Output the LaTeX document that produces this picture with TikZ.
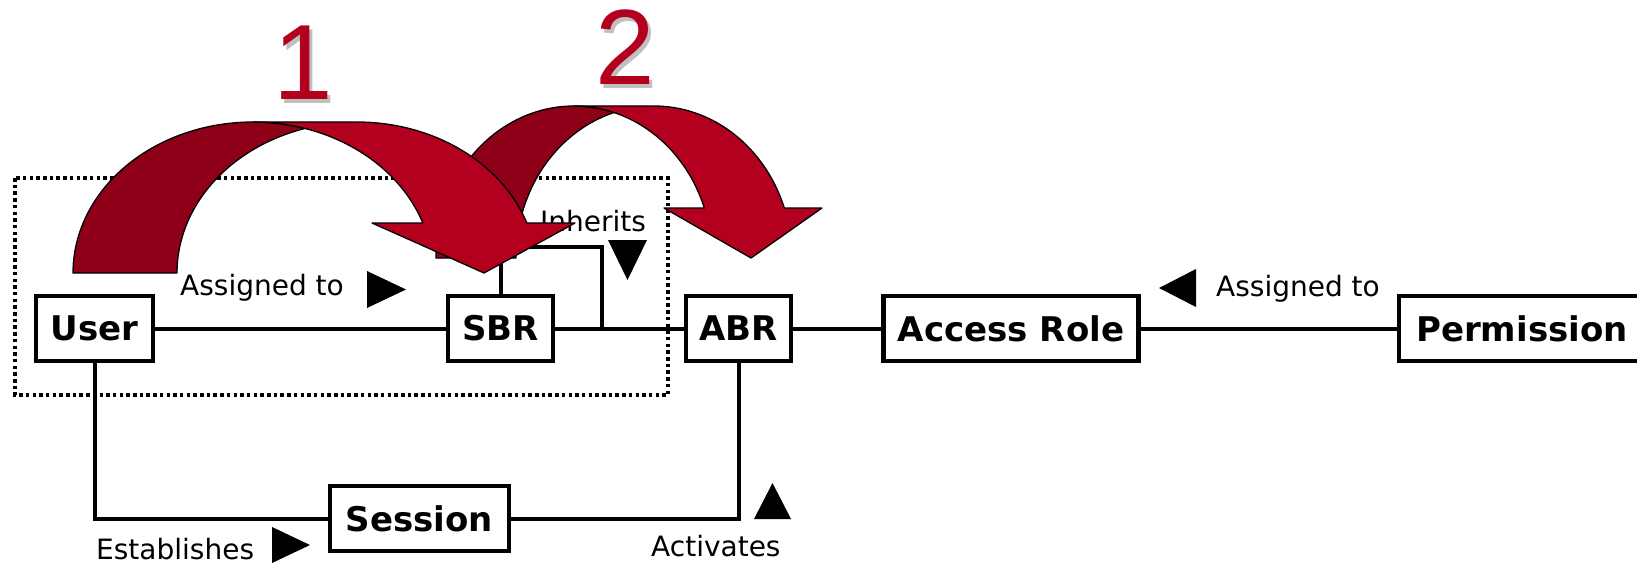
\documentclass[tikz,border=0pt]{standalone}
\usepackage{fontspec}
\setmainfont{DejaVu Sans}
\newfontfamily\numfont{Liberation Sans}
\definecolor{ribbon}{RGB}{178,0,30}
\definecolor{ribbondark}{RGB}{142,0,24}
\definecolor{numshadow}{RGB}{192,192,192}
% a step number with a soft grey drop shadow
\newcommand{\stepnum}[1]{\rlap{\raisebox{-3.5pt}{\hspace*{3.5pt}\textcolor{numshadow}{#1}}}#1}
\begin{document}
\begin{tikzpicture}[x=1pt,y=-1pt,
  box/.style={draw, line width=4.5pt, minimum height=65pt, inner sep=0pt,
    outer sep=0pt, fill=white, font=\bfseries\fontsize{34}{40}\selectfont},
  link/.style={line width=4pt},
  lbl/.style={inner sep=0pt, anchor=base west, font=\fontsize{28}{32}\selectfont},
  marker/.style={fill=black},
  dotframe/.style={line width=4pt, dash pattern=on 3.5pt off 3.2pt},
  front/.style={fill=ribbon, draw=black, line width=1.3pt, line join=round},
  back/.style={fill=ribbondark, draw=black, line width=1.3pt, line join=round},
  numtxt/.style={inner sep=0pt, anchor=base west, text=ribbon,
    font=\numfont\fontsize{107}{110}\selectfont}]

\useasboundingbox (0,0) rectangle (1637,567);
\clip (0,0) rectangle (1637,567);

% grouping frame around User and SBR
\draw[dotframe] (15,178) rectangle (668,395);

% role boxes
\node[box, minimum width=117pt] (user)    at (94.5,328.5)  {User};
\node[box, minimum width=105pt] (sbr)     at (500.5,328.5) {SBR};
\node[box, minimum width=105pt] (abr)     at (738.5,328.5) {ABR};
\node[box, minimum width=255pt] (access)  at (1011,328.5)  {Access Role};
\node[box, minimum width=246pt] (perm)    at (1522,328.5)  {Permission};
\node[box, minimum width=179pt] (session) at (419.5,518.5) {Session};

\coordinate (inhtop) at (602,247);
\coordinate (inhjoin) at (602,328.5);

% connectors
\draw[link] (user) -- (sbr);
\draw[link] (sbr) -- (abr);
\draw[link] (abr) -- (access);
\draw[link] (access) -- (perm);
\draw[link] (user.south) |- (session.west);
\draw[link] (session.east) -| (abr.south);
\draw[link] (sbr.north) |- (inhtop) -- (inhjoin);

% relation labels
\node[lbl] (lassign) at (180,295)  {Assigned to};
\node[lbl] (linh)    at (540,231)  {Inherits};
\node[lbl] (rassign) at (1216,296) {Assigned to};
\node[lbl] (lest)    at (96,559)   {Establishes};
\node[lbl] (lact)    at (651,556)  {Activates};

% direction markers
\fill[marker] (367,271) -- (406,289.5) -- (367,308) -- cycle;
\fill[marker] (608,240) -- (647,240) -- (627.5,280) -- cycle;
\fill[marker] (1196,269) -- (1196,307) -- (1159,288) -- cycle;
\fill[marker] (272,527) -- (310,545) -- (272,563) -- cycle;
\fill[marker] (772.5,483) -- (791,519) -- (754,519) -- cycle;

% ribbon arrow 2 (behind)
\filldraw[back] (436,258)
  -- plot[domain=180:286.8, samples=60, variable=\t] ({574+138*cos(\t)},{258+152*sin(\t)})
  -- plot[domain=253.2:180, samples=60, variable=\t] ({654+138*cos(\t)},{258+152*sin(\t)})
  -- cycle;
\filldraw[front] (574,106) -- (654,106)
  -- plot[domain=270:340.8, samples=60, variable=\t] ({654+138*cos(\t)},{258+152*sin(\t)})
  -- (822,208) -- (751,258) -- (664,208) -- (704.3,208)
  -- plot[domain=340.8:270, samples=60, variable=\t] ({574+138*cos(\t)},{258+152*sin(\t)})
  -- cycle;

% ribbon arrow 1 (front)
\filldraw[back] (73,273)
  -- plot[domain=180:286.8, samples=60, variable=\t] ({253+180*cos(\t)},{273+151*sin(\t)})
  -- plot[domain=253.2:180, samples=60, variable=\t] ({357+180*cos(\t)},{273+151*sin(\t)})
  -- cycle;
\filldraw[front] (253,122) -- (357,122)
  -- plot[domain=270:340.66, samples=60, variable=\t] ({357+180*cos(\t)},{273+151*sin(\t)})
  -- (575,223) -- (484,273) -- (372,223) -- (422.85,223)
  -- plot[domain=340.66:270, samples=60, variable=\t] ({253+180*cos(\t)},{273+151*sin(\t)})
  -- cycle;

% step numbers
\node[numtxt] (one) at (273,100) {\stepnum{1}};
\node[numtxt] (two) at (595,85)  {\stepnum{2}};
\end{tikzpicture}
\end{document}
